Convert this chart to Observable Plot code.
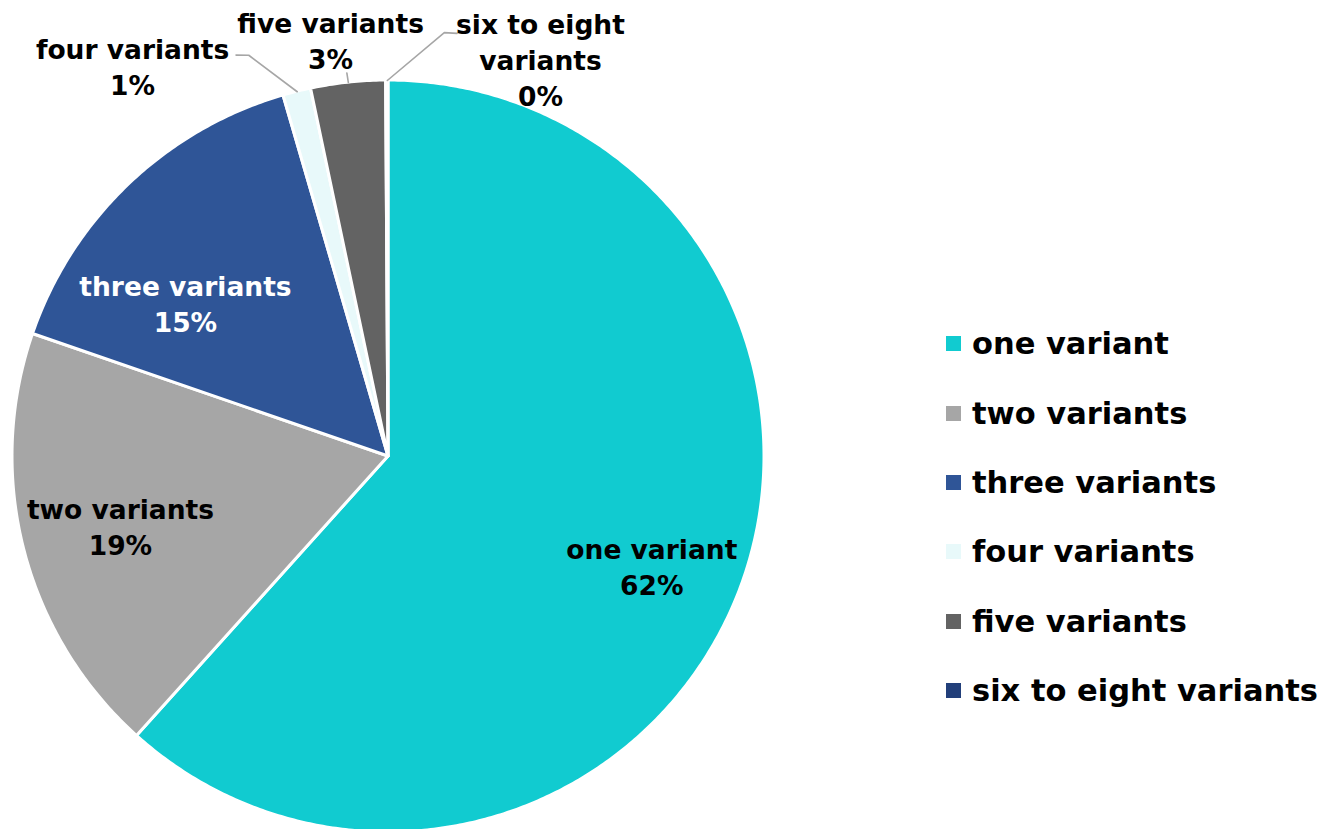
<!DOCTYPE html>
<html><head><meta charset="utf-8">
<script src="https://cdn.jsdelivr.net/npm/d3@7"></script>
<script src="https://cdn.jsdelivr.net/npm/@observablehq/plot@0.6"></script>
<style>
html,body{margin:0;padding:0;background:#fff;overflow:hidden;}
#wrap{position:relative;width:1330px;height:829px;overflow:hidden;}
#legend{position:absolute;left:946px;top:309px;font-family:"DejaVu Sans",Verdana,sans-serif;font-size:30.5px;font-weight:bold;color:#000;}
.row{display:flex;align-items:center;height:69.4px;}
.sw{width:15px;height:15px;margin-right:11px;flex:none;}
</style></head><body><div id="wrap"><div id="legend"></div></div>
<script>
// ---- data ----
const categories = ["one variant","two variants","three variants","four variants","five variants","six to eight variants"];
const shares = [61.6, 18.6, 15.2, 1.2, 3.2, 0.1];
const percentLabels = ["62%","19%","15%","1%","3%","0%"];
const colors = ["#11CBD0","#A6A6A6","#2F5597","#E8F9FA","#636363","#223F7A"];
const labelLines = ["one variant","two variants","three variants","four variants","five variants","six to eight\nvariants"];

// ---- label placement (polar: angle deg clockwise from top, radius factor) ----
const labelPlace = [[112.5,0.758],[255.6,0.736],[307.2,0.678],[326.8,1.243],[352.1,1.12],[20.9,1.133]];
const labelInk = ["#000","#000","#fff","#000","#000","#000"];
// leader bend points for outside labels (polar)
const leaderBends = {3:[[340.8,1.13],[339.2,1.142]], 4:[[353.8,1.026]], 5:[[7.5,1.137],[9.2,1.14]]};

const pie = d3.pie().sort(null).value(d => d)(shares);
const polar = (aDeg, r) => ({x: r*Math.sin(aDeg*Math.PI/180), y: r*Math.cos(aDeg*Math.PI/180)});

// sector outlines (sampled arcs)
const arcPts = [];
pie.forEach((p, i) => {
  const a0 = p.startAngle*180/Math.PI, a1 = p.endAngle*180/Math.PI;
  const n = Math.max(2, Math.ceil((a1 - a0)/0.5));
  for (let k = 0; k <= n; k++) {
    const a = a0 + (a1 - a0)*k/n;
    const q = polar(a, 1);
    arcPts.push({name: categories[i], x: q.x, y: q.y});
  }
});

const labels = categories.map((c, i) => {
  const q = polar(labelPlace[i][0], labelPlace[i][1]);
  return {name: c, x: q.x, y: q.y, text: labelLines[i] + "\n" + percentLabels[i], ink: labelInk[i]};
});

const leaders = [];
Object.entries(leaderBends).forEach(([i, bends]) => {
  const p = pie[+i];
  const mid = (p.startAngle + p.endAngle)/2*180/Math.PI;
  const pts = [[mid, 1.0], ...bends];
  pts.forEach(([a, r]) => { const q = polar(a, r); leaders.push({g: categories[+i], x: q.x, y: q.y}); });
});

const chart = Plot.plot({
  width: 1330, height: 829,
  margin: 0,
  x: {domain: [-1, 1], range: [12, 764], axis: null},
  y: {domain: [-1, 1], range: [832, 80], axis: null},
  color: {domain: categories, range: colors},
  style: {fontFamily: '"DejaVu Sans", Verdana, sans-serif', background: "#fff"},
  marks: [
    Plot.area(arcPts, {x1: "x", y1: "y", x2: 0, y2: 0, z: "name", fill: "name", stroke: "#fff", strokeWidth: 3, strokeLinejoin: "round", curve: "linear"}),
    Plot.line(leaders, {x: "x", y: "y", z: "g", stroke: "#A6A6A6", strokeWidth: 1.6, curve: "linear"}),
    Plot.text(labels, {x: "x", y: "y", text: "text", fill: "ink", fontSize: 26.5, fontWeight: "bold", lineHeight: 1.36, textAnchor: "middle"})
  ]
});
document.getElementById("wrap").prepend(chart);

const legend = document.getElementById("legend");
categories.forEach((c, i) => {
  const row = document.createElement("div"); row.className = "row";
  const sw = document.createElement("div"); sw.className = "sw"; sw.style.background = colors[i];
  const t = document.createElement("span"); t.textContent = c;
  row.append(sw, t); legend.append(row);
});
</script>
</body></html>
